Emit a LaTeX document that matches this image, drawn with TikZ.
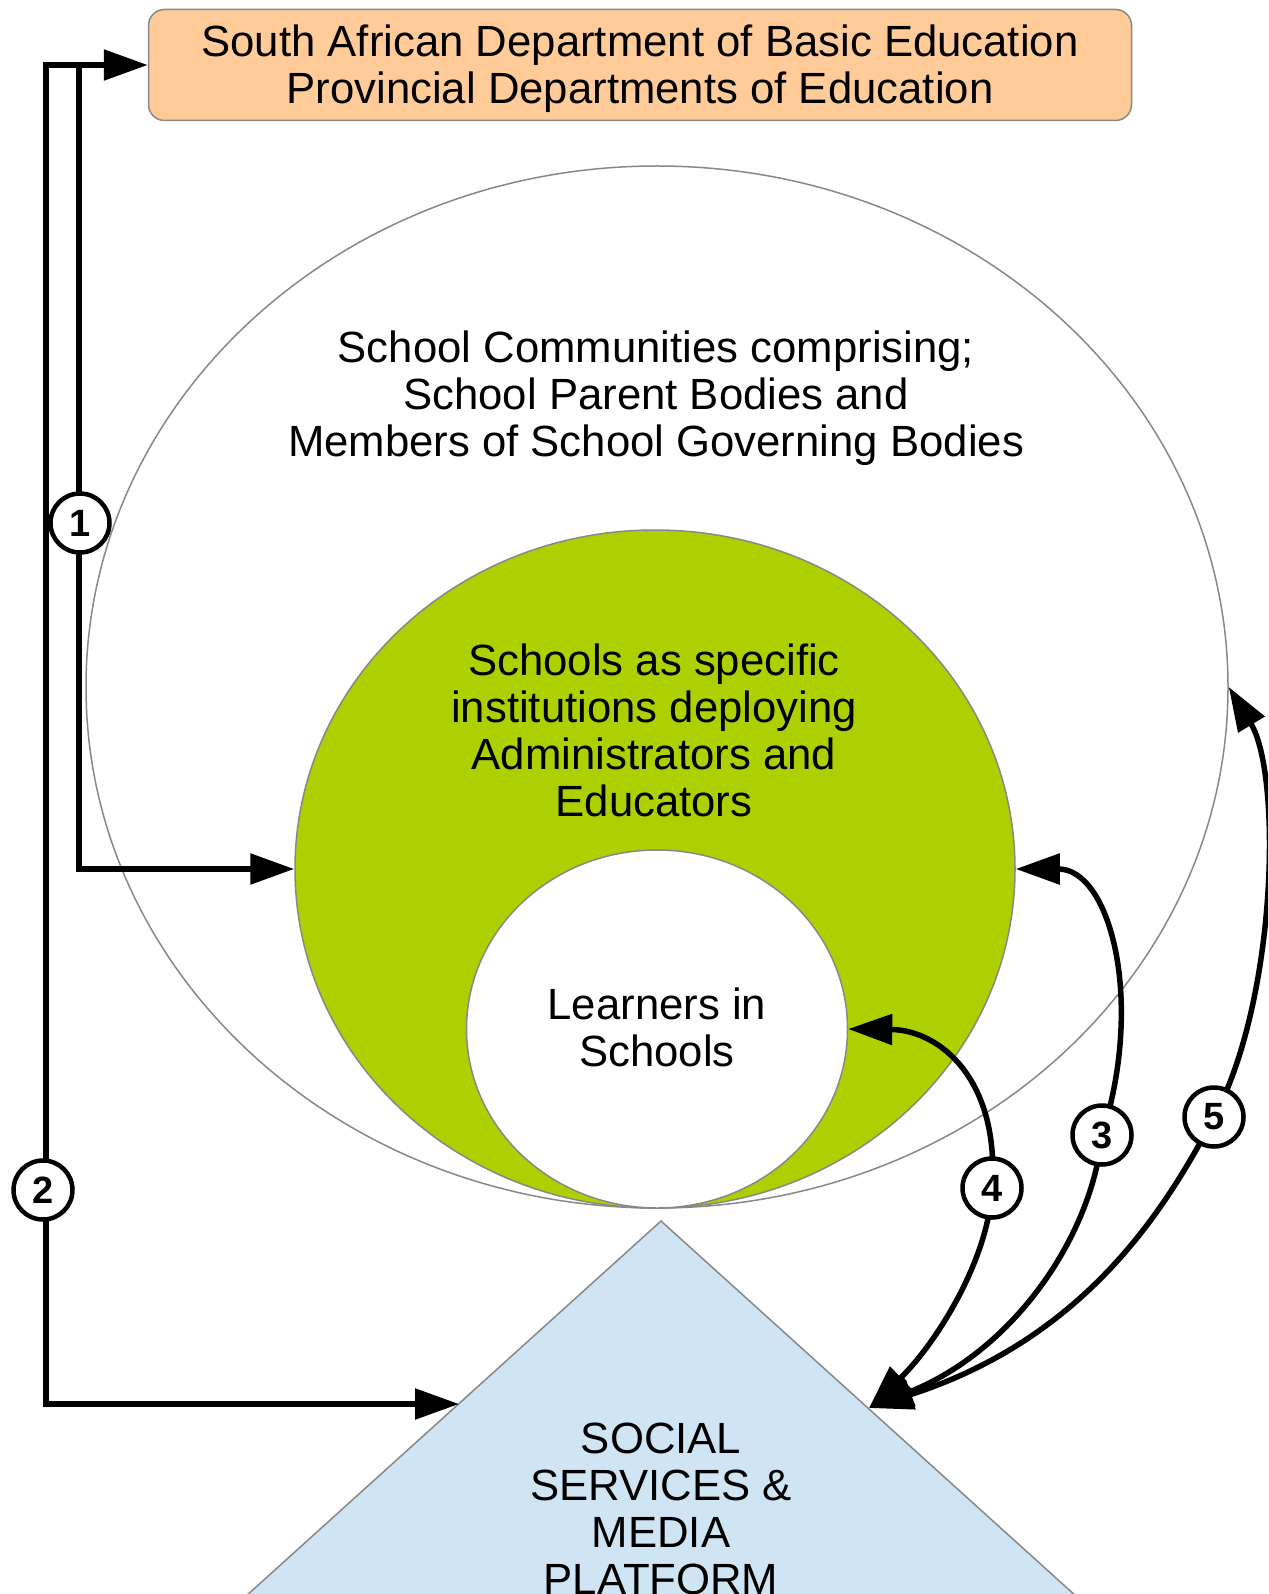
\documentclass[tikz,border=0pt]{standalone}
\usepackage{fontspec}
\setmainfont{Liberation Sans}
\usetikzlibrary{arrows.meta,shapes.geometric}
\definecolor{peach}{RGB}{255,204,153}
\definecolor{leaf}{RGB}{174,207,0}
\definecolor{sky}{RGB}{207,229,243}
\definecolor{rim}{RGB}{136,136,136}

\begin{document}
\begin{tikzpicture}[x=1pt,y=-1pt,
  rimline/.style={draw=rim, line width=1.5pt},
  txt/.style={font=\fontsize{43.7}{47}\selectfont, align=center, inner sep=0pt},
  conn/.style={line width=5.5pt},
  head/.tip={Triangle[length=44pt,width=30pt]},
  badge/.style={circle, draw, line width=4.5pt, fill=white, minimum size=59pt,
    inner sep=0pt, font=\fontsize{38}{38}\selectfont\bfseries}
]
\path[use as bounding box] (0,0) rectangle (1268,1594);
\clip (0,0) rectangle (1268,1594);

% platform triangle, running off the bottom edge
\draw[rimline, fill=sky] (661,1221) -- (131,1700) -- (1191,1700) -- cycle;
\coordinate (triL) at (459,1404);
\coordinate (triR) at (869,1408);

% nested rings
\node[ellipse, rimline, minimum width=1142pt, minimum height=1042pt, inner sep=0pt] (commun) at (657,687) {};
\node[ellipse, rimline, fill=leaf, minimum width=720pt, minimum height=678pt, inner sep=0pt] (school) at (655,869) {};
\node[ellipse, rimline, fill=white, minimum width=381pt, minimum height=358pt, inner sep=0pt] (learn) at (657,1029) {};

% department box
\node[rounded corners=16pt, rimline, fill=peach, minimum width=983pt, minimum height=111pt] (dbe) at (640,65) {};
\node[txt] (dbetext) at (640,69) {South African Department of Basic Education\\Provincial Departments of Education};

% labels
\node[txt] (commtext) at (656,398) {School Communities comprising;\\School Parent Bodies and\\Members of School Governing Bodies};
\node[txt] (schooltext) at (654,730) {Schools as specific\\institutions deploying\\Administrators and\\Educators};
\node[txt] (learntext) at (657,1027) {Learners in\\Schools};
\node[txt] (platform) at (661,1509) {SOCIAL\\SERVICES \&\\MEDIA\\PLATFORM};

% connectors 1 and 2 from the department
\coordinate (j2) at (46,65);
\coordinate (j1) at (79,65);
\draw[conn, head-head] (dbe.west) -- (j2) |- (triL);
\draw[conn, -head] (j1) |- (school.west);

% connectors 3, 4, 5 from the platform
\coordinate (p3) at (1102,1135);
\coordinate (p4) at (992,1188);
\coordinate (p5) at (1214,1117);
\draw[conn, head-head] (learn.east) .. controls (940,1030) and (1000,1080) .. (p4)
  .. controls (989,1260) and (935,1345) .. (triR);
\draw[conn, head-head] (school.east) .. controls (1110,869) and (1145,1000) .. (p3)
  .. controls (1092,1235) and (1015,1350) .. (triR);
\draw[conn, head-head] (commun.east) .. controls (1282,775) and (1277,1000) .. (p5)
  .. controls (1162,1217) and (1080,1340) .. (triR);

% numbered badges
\node[badge] (n1) at (80,523) {1};
\node[badge] (n2) at (43,1190) {2};
\node[badge] (n3) at (p3) {3};
\node[badge] (n4) at (p4) {4};
\node[badge] (n5) at (p5) {5};
\end{tikzpicture}
\end{document}
